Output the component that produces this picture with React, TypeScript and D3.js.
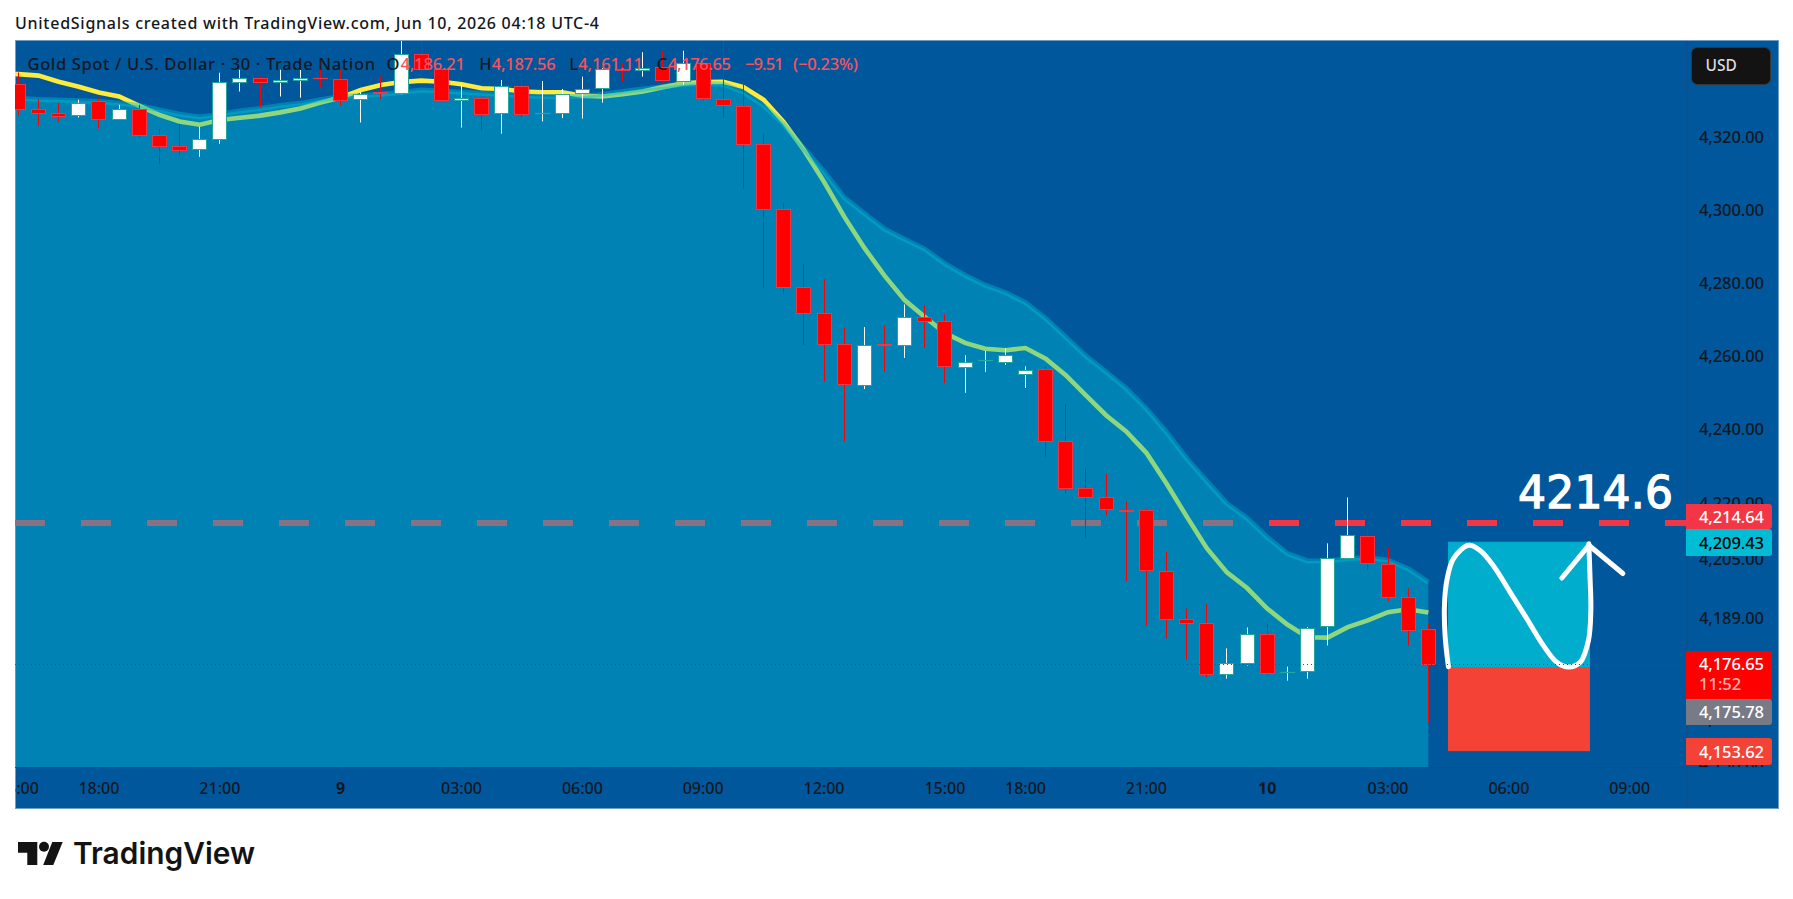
import React from "react";
import * as d3 from "d3";

const opens = [4334.7,4327.9,4326.8,4326.2,4330.0,4325.0,4327.8,4320.6,4317.5,4316.7,4319.4,4335.3,4336.4,4335.3,4335.8,4336.4,4336.1,4330.6,4332.5,4332.2,4343.0,4338.9,4330.3,4330.8,4326.7,4334.1,4326.6,4326.7,4332.2,4333.6,4338.9,4338.7,4339.4,4335.5,4340.6,4330.5,4328.6,4318.1,4300.1,4278.9,4271.8,4263.1,4251.9,4263.1,4262.8,4270.7,4269.6,4256.8,4258.7,4258.4,4255.1,4256.5,4236.9,4224.0,4221.6,4218.0,4218.2,4201.8,4188.9,4187.8,4174.1,4177.0,4184.8,4174.5,4174.9,4186.8,4205.3,4211.2,4203.6,4194.7,4186.21];
const highs = [4338.0,4330.6,4329.5,4330.4,4330.8,4329.0,4329.0,4322.3,4323.7,4322.9,4337.9,4338.7,4336.9,4338.7,4339.1,4341.7,4338.7,4332.5,4336.9,4349.0,4349.0,4339.2,4334.7,4331.1,4335.9,4336.8,4335.6,4333.4,4336.8,4339.2,4340.5,4343.6,4344.0,4344.0,4345.2,4349.0,4335.6,4320.9,4301.8,4285.2,4280.9,4267.6,4267.8,4268.1,4274.0,4273.8,4271.3,4260.1,4261.3,4262.0,4257.1,4257.1,4246.9,4229.4,4227.9,4220.5,4218.5,4206.9,4191.6,4192.7,4180.9,4186.5,4187.3,4176.0,4186.6,4209.1,4221.5,4213.3,4208.0,4197.0,4187.56];
const lows = [4325.9,4323.2,4324.3,4325.5,4322.4,4324.9,4319.9,4312.5,4315.2,4314.6,4318.2,4332.7,4328.2,4331.3,4331.0,4333.8,4328.8,4324.1,4330.7,4331.9,4338.0,4330.2,4322.7,4322.0,4321.0,4325.5,4324.4,4325.3,4325.2,4329.6,4335.5,4336.8,4335.2,4334.5,4330.3,4325.3,4305.8,4278.5,4276.9,4262.9,4253.1,4236.6,4250.9,4255.6,4259.4,4262.1,4252.6,4249.9,4255.6,4257.5,4251.2,4232.5,4222.5,4210.5,4216.7,4198.9,4187.1,4183.6,4177.8,4173.1,4172.8,4176.3,4173.6,4172.3,4172.8,4181.7,4204.9,4201.8,4193.5,4181.7,4161.11];
const closes = [4327.7,4326.6,4326.0,4329.5,4325.0,4327.7,4320.6,4317.5,4316.6,4319.4,4335.2,4336.4,4335.3,4336.0,4336.4,4336.3,4330.3,4332.1,4332.4,4343.2,4339.0,4330.3,4330.8,4326.4,4334.1,4326.4,4326.6,4332.1,4333.5,4338.8,4338.6,4339.3,4335.8,4340.6,4330.8,4328.9,4318.1,4300.1,4278.7,4271.8,4263.3,4252.2,4262.8,4263.0,4270.6,4269.5,4257.1,4258.3,4258.7,4260.2,4256.1,4236.9,4224.1,4221.6,4218.4,4217.9,4202.0,4188.9,4187.7,4174.1,4176.9,4184.8,4174.2,4174.5,4186.4,4205.3,4211.5,4203.8,4194.6,4185.9,4176.65];

// one extra leading point (bar -1) because the study runs off the left edge
const maValues = [4337.7,4337.5,4337.1,4335.4,4334.0,4332.4,4331.3,4328.7,4326.2,4324.4,4323.5,4324.8,4325.4,4326.0,4326.9,4328.0,4329.6,4331.0,4333.1,4334.5,4335.3,4335.7,4335.4,4334.7,4333.6,4333.4,4332.7,4332.5,4332.5,4331.5,4331.3,4331.9,4332.7,4333.9,4334.9,4335.3,4335.4,4333.9,4330.4,4324.2,4316.5,4307.7,4298.1,4289.5,4281.9,4275.2,4270.6,4266.2,4263.5,4261.9,4261.5,4262.1,4259.2,4254.7,4249.2,4243.8,4239.4,4233.6,4225.3,4216.4,4207.8,4201.3,4197.1,4191.6,4187.3,4183.9,4183.8,4186.6,4188.4,4190.6,4191.4,4190.5];
const bandValues = [4330.9,4330.8,4330.5,4330.3,4330.1,4329.9,4329.4,4328.8,4327.6,4326.4,4325.6,4326.4,4327.3,4328.0,4328.8,4329.4,4330.4,4331.3,4331.5,4331.9,4332.4,4333.1,4332.8,4332.5,4332.2,4331.9,4331.5,4331.3,4331.2,4331.4,4331.9,4332.7,4333.4,4334.0,4334.6,4334.9,4334.7,4332.5,4328.8,4323.6,4317.0,4310.5,4303.4,4299.0,4294.7,4291.9,4289.2,4285.2,4282.0,4279.3,4277.3,4274.5,4270.2,4265.1,4259.9,4255.6,4251.1,4245.6,4239.2,4232.1,4225.9,4219.9,4215.9,4210.8,4206.4,4204.4,4204.4,4205.0,4205.3,4204.6,4202.3,4198.7];

const priceTicks = [4320,4300,4280,4260,4240,4220,4205,4189,4162,4150];
const timeBars = [0,4,10,16,22,28,34,40,46,50,56,62,68,74,80];
const timeLabels = ["15:00","18:00","21:00","9","03:00","06:00","09:00","12:00","15:00","18:00","21:00","10","03:00","06:00","09:00"];
const boldTimeLabels = ["9","10"];

const horizontalLevel = 4214.64;
const levelLabel = "4214.6";
const closePrice = 4176.65;
const entryPrice = 4175.78;
const targetPrice = 4209.43;
const stopPrice = 4153.62;
const positionBars = [71, 78];
const countdown = "11:52";
const changeText = "−9.51";
const changePctText = "(−0.23%)";

const curveBars = [71.0,70.84,70.8,70.92,71.25,72.0,72.57,73.23,74.06,74.89,75.71,76.38,76.96,77.54,77.95,78.07,78.03,77.97];
const curvePrices = [4176.0,4183.9,4192.0,4199.1,4205.0,4208.6,4207.2,4203.1,4196.0,4188.9,4181.7,4177.2,4175.9,4177.2,4183.0,4191.0,4200.0,4209.0];
const arrowBars = [76.63,77.97,79.66];
const arrowPrices = [4199.8,4208.6,4201.0];

const titleText = "UnitedSignals created with TradingView.com, Jun 10, 2026 04:18 UTC-4";
const legendName = "Gold Spot / U.S. Dollar · 30 · Trade Nation";

const UI = "'Noto Sans', sans-serif";
const INK = "#131722";
const LEGEND_RED = "#F7525F";
const BG = "#01579B";

const L = 15, R = 1778, T = 41, B = 808, PR = 1686, PB = 767;

const x = d3.scaleLinear().domain([0, 70]).range([18.4, 1428.3]);
const y = d3.scaleLog().domain([4176.65, 4320]).range([664.3, 137.3]);
const fmt = d3.format(",.2f");

function Tag({ price, top, bottom, fill, color = "#fff" }: any) {
  return (
    <g>
      <path d={`M${PR} ${top}H${1769}a3 3 0 0 1 3 3V${bottom - 3}a3 3 0 0 1 -3 3H${PR}Z`} fill={fill} />
      <text x={1699} y={(top + bottom) / 2 + 6} fontSize={16.5} fontWeight={500} fill={color} fontFamily={UI} textLength={65} lengthAdjust="spacing">{fmt(price)}</text>
    </g>
  );
}

export default function App() {
  const maLine = d3.line<number>().x((_, k) => x(k - 1)).y((d) => y(d))(maValues) as string;
  const bandLine = d3.line<number>().x((_, k) => x(k - 1)).y((d) => y(d))(bandValues) as string;
  const bandArea = d3.area<number>().x((_, k) => x(k - 1)).y0(PB).y1((d) => y(d))(bandValues) as string;
  const curve = d3.line<number>().x((d) => x(d)).y((_, k) => y(curvePrices[k])).curve(d3.curveCatmullRom)(curveBars) as string;
  const arrow = d3.line<number>().x((d) => x(d)).y((_, k) => y(arrowPrices[k]))(arrowBars) as string;

  const legendSegs = [
    { t: legendName, x0: 27.5, x1: 375, c: INK },
    { t: "O", x0: 386.5, x1: 399, c: INK },
    { t: fmt(opens[70]), x0: 400.5, x1: 465, c: LEGEND_RED },
    { t: "H", x0: 479.3, x1: 491, c: INK },
    { t: fmt(highs[70]), x0: 491.7, x1: 555.7, c: LEGEND_RED },
    { t: "L", x0: 569.3, x1: 577.5, c: INK },
    { t: fmt(lows[70]), x0: 578.3, x1: 643, c: LEGEND_RED },
    { t: "C", x0: 656.7, x1: 667.5, c: INK },
    { t: fmt(closes[70]), x0: 668, x1: 731, c: LEGEND_RED },
    { t: changeText, x0: 745, x1: 783.7, c: LEGEND_RED },
    { t: changePctText, x0: 793, x1: 858, c: LEGEND_RED },
  ];

  return (
    <svg width={1793} height={899} style={{ position: "fixed", left: 0, top: 0, background: "#fff" }}>
      <defs>
        <clipPath id="pane"><rect x={L} y={T} width={PR - L} height={PB - T} /></clipPath>
        <clipPath id="axisY"><rect x={PR} y={T} width={R - PR} height={PB - T} /></clipPath>
        <clipPath id="axisX"><rect x={L} y={PB} width={PR - L} height={B - PB} /></clipPath>
      </defs>

      <text x={15} y={29} fontSize={16} fontWeight={500} fill="#131722" fontFamily={UI} textLength={584} lengthAdjust="spacing">{titleText}</text>

      <rect x={L + 0.5} y={T - 0.5} width={R - L} height={B - T + 1} fill={BG} stroke="#6d9cc4" strokeWidth={1} />

      <g clipPath="url(#pane)">
        <line x1={L} x2={PR} y1={y(horizontalLevel)} y2={y(horizontalLevel)} stroke="#F23645" strokeWidth={6} strokeDasharray="30 36" />
        <path d={maLine} fill="none" stroke="#FFEB3B" strokeWidth={4.6} />
        <path d={bandArea} fill="#00BCD4" fillOpacity={0.44} />
        <path d={bandLine} fill="none" stroke="#00BCD4" strokeOpacity={0.42} strokeWidth={5} />

        {opens.map((o, i) => {
          const c = closes[i];
          const up = c >= o;
          const cx = Math.floor(x(i)) + 0.5;
          const top = Math.round(y(Math.max(o, c))) + 0.5;
          const bot = Math.round(y(Math.min(o, c))) + 0.5;
          const border = up ? "#26A69A" : "#F23645";
          return (
            <g key={i}>
              <line x1={cx} x2={cx} y1={y(highs[i])} y2={y(lows[i])} stroke={up ? "#fff" : "#FF0000"} strokeWidth={1} />
              {bot - top < 1 ? (
                <line x1={cx - 7.5} x2={cx + 7.5} y1={top} y2={top} stroke={border} strokeWidth={1.2} />
              ) : (
                <rect x={cx - 7} y={top} width={14} height={bot - top} fill={up ? "#fff" : "#FF0000"} stroke={border} strokeWidth={1} />
              )}
            </g>
          );
        })}

        <rect x={x(positionBars[0])} width={x(positionBars[1]) - x(positionBars[0])} y={y(targetPrice)} height={y(entryPrice) - y(targetPrice)} fill="#00ADCC" stroke="#00ADCC" strokeWidth={1} />
        <rect x={x(positionBars[0])} width={x(positionBars[1]) - x(positionBars[0])} y={y(entryPrice)} height={y(stopPrice) - y(entryPrice)} fill="#F44336" stroke="#F44336" strokeWidth={1} />
        <path d={curve} fill="none" stroke="#fff" strokeWidth={5} strokeLinecap="round" strokeLinejoin="round" />
        <path d={arrow} fill="none" stroke="#fff" strokeWidth={5} strokeLinecap="round" strokeLinejoin="round" />
        <text x={1518} y={508} fontSize={44} fontFamily="'DejaVu Sans', sans-serif" fill="#fff" stroke="#fff" strokeWidth={1.3} textLength={155} lengthAdjust="spacing">{levelLabel}</text>
        <line x1={L} x2={PR} y1={Math.round(y(closePrice)) + 0.5} y2={Math.round(y(closePrice)) + 0.5} stroke="#FF0000" strokeWidth={1} strokeDasharray="1 3" />
      </g>

      {legendSegs.map((s, i) => (
        <text key={i} x={s.x0} y={70} fontSize={16.5} fontWeight={500} fill={s.c} fontFamily={UI} textLength={s.x1 - s.x0} lengthAdjust="spacing">{s.t}</text>
      ))}

      <line x1={PR + 0.5} x2={PR + 0.5} y1={T} y2={B} stroke="#0A4F8B" strokeWidth={1} />
      <line x1={L} x2={R} y1={PB + 0.5} y2={PB + 0.5} stroke="#0A4F8B" strokeWidth={1} />

      <g clipPath="url(#axisY)">
        {priceTicks.map((p) => (
          <text key={p} x={1699} y={y(p) + 6} fontSize={16.5} fontWeight={500} fill={INK} fontFamily={UI} textLength={65} lengthAdjust="spacing">{fmt(p)}</text>
        ))}
        <Tag price={horizontalLevel} top={504} bottom={529} fill="#F23645" />
        <Tag price={targetPrice} top={529} bottom={556} fill="#00BCD4" color="#000" />
        <path d={`M${PR} 651H1769a3 3 0 0 1 3 3V699H${PR}Z`} fill="#FF0000" />
        <text x={1699} y={669.5} fontSize={16.5} fontWeight={500} fill="#fff" fontFamily={UI} textLength={65} lengthAdjust="spacing">{fmt(closePrice)}</text>
        <text x={1699} y={690} fontSize={16.5} fontWeight={500} fill="#fff" fillOpacity={0.7} fontFamily={UI}>{countdown}</text>
        <Tag price={entryPrice} top={699} bottom={725} fill="#787B86" />
        <Tag price={stopPrice} top={738} bottom={765} fill="#F44336" />
      </g>

      <g clipPath="url(#axisX)">
        {timeBars.map((b, i) => (
          <text key={i} x={x(b)} y={794} fontSize={16} textAnchor="middle" fill={INK} fontFamily={UI} fontWeight={boldTimeLabels.includes(timeLabels[i]) ? 700 : 500}>{timeLabels[i]}</text>
        ))}
      </g>

      <rect x={1691.5} y={47.5} width={79} height={37} rx={6} fill="#131313" stroke="#363636" />
      <text x={1705.5} y={71} fontSize={15.5} fontWeight={500} fill="#DDDDDD" fontFamily={UI}>USD</text>

      <g fill="#131313">
        <path d="M18 842H37.3V865H27.3V852.7H18Z" />
        <circle cx={44} cy={846.8} r={5} />
        <path d="M52.3 842H62.7L53.3 865H43.2Z" />
        <text x={73} y={864.3} fontSize={30} fontWeight={600} fontFamily="Inter, sans-serif" textLength={182} lengthAdjust="spacingAndGlyphs">TradingView</text>
      </g>
    </svg>
  );
}
